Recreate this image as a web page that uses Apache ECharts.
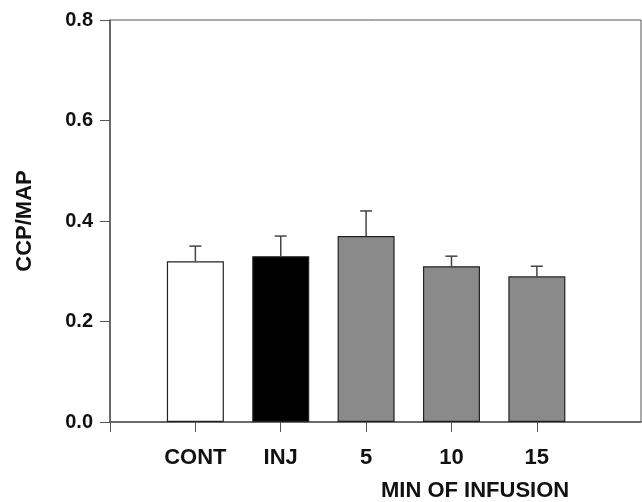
<!DOCTYPE html>
<html>
<head>
<meta charset="utf-8">
<script src="https://cdn.jsdelivr.net/npm/echarts@6/dist/echarts.min.js"></script>
<style>
  html, body { margin: 0; padding: 0; background: #fff; }
  #chart { width: 642px; height: 502px; }
</style>
</head>
<body>
<div id="chart"></div>
<script>
// 数据
var categories = ['CONT', 'INJ', '5', '10', '15'];
var ratioMean = [0.32, 0.33, 0.37, 0.31, 0.29];
var ratioSem = [0.03, 0.04, 0.05, 0.02, 0.02];
var barColors = ['#ffffff', '#000000', '#8a8a8a', '#8a8a8a', '#8a8a8a'];

var font = '"Liberation Sans", Arial, sans-serif';
var axisColor = '#555';

var barData = categories.map(function (c, i) {
  return { value: [i + 1, ratioMean[i]], itemStyle: { color: barColors[i] } };
});
var errData = categories.map(function (c, i) {
  return [i + 1, ratioMean[i], ratioMean[i] + ratioSem[i]];
});

var chart = echarts.init(document.getElementById('chart'));
chart.setOption({
  animation: false,
  backgroundColor: '#fff',
  title: {
    text: 'MIN OF INFUSION',
    left: 381,
    top: 480,
    padding: 0,
    textStyle: { fontFamily: font, fontWeight: 'bold', fontSize: 22, color: '#111' }
  },
  grid: {
    left: 110, right: 1, top: 20, bottom: 80,
    show: true, borderColor: axisColor, borderWidth: 1
  },
  xAxis: {
    type: 'value',
    min: 0,
    max: 6.22,
    splitLine: { show: false },
    axisLine: { show: true, lineStyle: { color: axisColor, width: 1.5 } },
    axisTick: { show: true, length: 10, customValues: [0, 1, 2, 3, 4, 5], lineStyle: { color: axisColor } },
    axisLabel: {
      customValues: [1, 2, 3, 4, 5],
      margin: 25,
      fontFamily: font, fontWeight: 'bold', fontSize: 22, color: '#111',
      formatter: function (v) { return categories[Math.round(v) - 1] || ''; }
    }
  },
  yAxis: {
    type: 'value',
    min: 0, max: 0.8, interval: 0.2,
    name: 'CCP/MAP',
    nameLocation: 'middle',
    nameRotate: 90,
    nameGap: 74,
    nameTextStyle: { fontFamily: font, fontWeight: 'bold', fontSize: 22, color: '#111' },
    splitLine: { show: false },
    axisLine: { show: true, lineStyle: { color: axisColor, width: 1.5 } },
    axisTick: { show: true, length: 10, lineStyle: { color: axisColor } },
    axisLabel: {
      margin: 17,
      fontFamily: font, fontWeight: 'bold', fontSize: 20, color: '#111',
      formatter: function (v) { return v.toFixed(1); }
    }
  },
  series: [
    {
      type: 'bar',
      barWidth: 57,
      data: barData,
      itemStyle: { borderColor: '#222', borderWidth: 1.2 }
    },
    {
      type: 'custom',
      data: errData,
      z: 1,
      renderItem: function (params, api) {
        var x = api.value(0);
        var base = api.coord([x, api.value(1)]);
        var top = api.coord([x, api.value(2)]);
        var cap = 6;
        var st = { stroke: '#444', lineWidth: 1.5 };
        return {
          type: 'group',
          children: [
            { type: 'line', shape: { x1: base[0], y1: base[1], x2: top[0], y2: top[1] }, style: st },
            { type: 'line', shape: { x1: top[0] - cap, y1: top[1], x2: top[0] + cap, y2: top[1] }, style: st }
          ]
        };
      }
    }
  ]
});
</script>
</body>
</html>
